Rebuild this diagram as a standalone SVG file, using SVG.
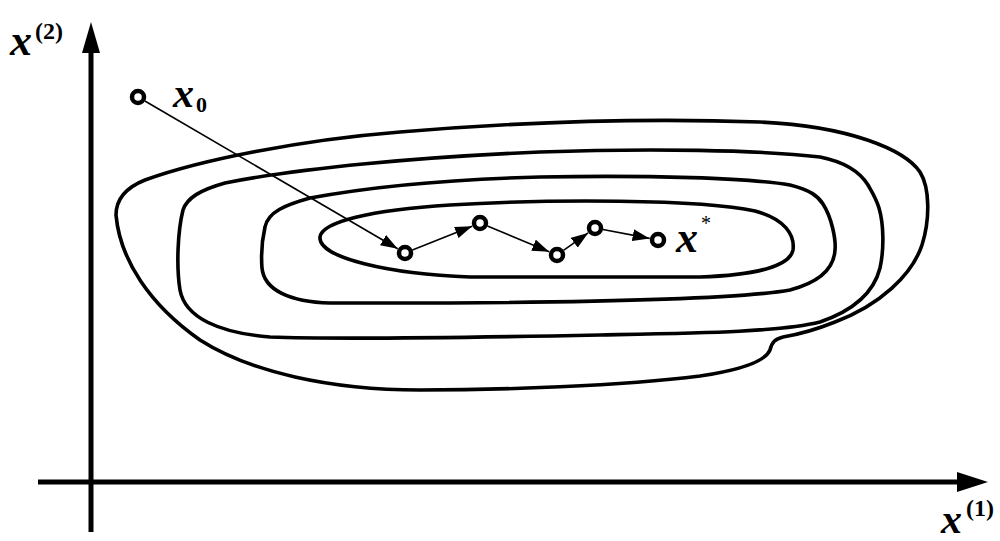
<svg xmlns="http://www.w3.org/2000/svg" width="1000" height="541" viewBox="0 0 1000 541">
<style>
.axis{stroke:#000;stroke-width:5;fill:none}
.contour{stroke:#000;stroke-width:3.6;fill:none;stroke-linejoin:round}
.step{stroke:#000;stroke-width:1.6;fill:none;marker-end:url(#ah)}
.pt{fill:#fff;stroke:#000;stroke-width:4.5}
text{font-family:'Liberation Serif',serif;fill:#000}
.var{font-weight:700;font-style:italic}
.idx{font-weight:700}
</style>
<defs>
<marker id="ah" markerUnits="userSpaceOnUse" markerWidth="18" markerHeight="12" refX="17" refY="6" orient="auto">
<path d="M0,0 L17,6 L0,12 Z" fill="#000"/>
</marker>
</defs>
<rect width="1000" height="541" fill="#fff"/>
<g id="axes">
<line class="axis" x1="91" y1="532" x2="91" y2="48"/>
<polygon points="91,22 82,53 100,53" fill="#000"/>
<line class="axis" x1="38" y1="482" x2="962" y2="482"/>
<polygon points="988,482 957,472 957,492" fill="#000"/>
</g>
<g id="contours">
<path class="contour" d="M116,215 C116,200 125,188 145,180 C200,160 300,140 400,132 C520,122 650,118 760,122 C850,126 905,150 920,172 C930,188 930,220 922,245 C912,275 880,305 835,322 C815,330 795,335 783,337 C775,339 772,342 770,350 C765,362 740,370 700,376 C620,386 500,390 420,390 C330,390 250,372 200,340 C150,305 120,260 116,215 Z"/>
<path class="contour" d="M183,210 C187,198 200,190 225,183 C300,168 420,157 540,152 C650,148 760,150 820,157 C845,162 860,172 868,185 C872,192 876,198 879,208 C884,225 884,250 880,268 C874,292 855,310 820,322 C780,332 700,333 600,335 C500,337 350,340 270,337 C220,333 185,318 180,290 C176,265 178,230 183,210 Z"/>
<path class="contour" d="M265,227 C268,212 285,205 310,198 C380,185 460,179 540,177 C650,175 750,178 790,185 C810,190 818,196 823,204 C832,218 836,240 835,250 C834,268 820,282 790,290 C740,299 600,302 450,303 L330,303 C290,302 264,290 262,268 C261,255 262,240 265,227 Z"/>
<path class="contour" d="M320,237 C322,222 370,210 450,205 C550,199 700,199 755,211 C785,219 795,235 793,250 C790,265 760,275 700,277 L470,277 C390,274 318,258 320,237 Z"/>
</g>
<g id="connectors">
<line class="step" x1="144.9" y1="101" x2="397.7" y2="248.7"/>
<line class="step" x1="412.4" y1="250" x2="472.1" y2="226.2"/>
<line class="step" x1="487.4" y1="226.1" x2="549.2" y2="251.7"/>
<line class="step" x1="563.5" y1="250.4" x2="588.1" y2="232.9"/>
<line class="step" x1="602.9" y1="229.5" x2="649.6" y2="238.4"/>
</g>
<g id="x0"><circle class="pt" cx="138" cy="97" r="6"/></g>
<g id="p1"><circle class="pt" cx="405" cy="253" r="6"/></g>
<g id="p2"><circle class="pt" cx="480" cy="223" r="6"/></g>
<g id="p3"><circle class="pt" cx="557" cy="255" r="6"/></g>
<g id="p4"><circle class="pt" cx="595" cy="228" r="6"/></g>
<g id="xstar"><circle class="pt" cx="658" cy="240" r="6"/></g>
<g id="labels">
<text class="var" x="10" y="55" font-size="44">x</text>
<text class="idx" x="35" y="39" font-size="24">(2)</text>
<text class="var" x="173" y="107" font-size="42">x</text>
<text class="idx" x="196" y="112" font-size="22">0</text>
<text class="var" x="676" y="252" font-size="44">x</text>
<text x="701" y="230" font-size="20">*</text>
<text class="var" x="941" y="533" font-size="42">x</text>
<text class="idx" x="966" y="516" font-size="24">(1)</text>
</g>
</svg>
